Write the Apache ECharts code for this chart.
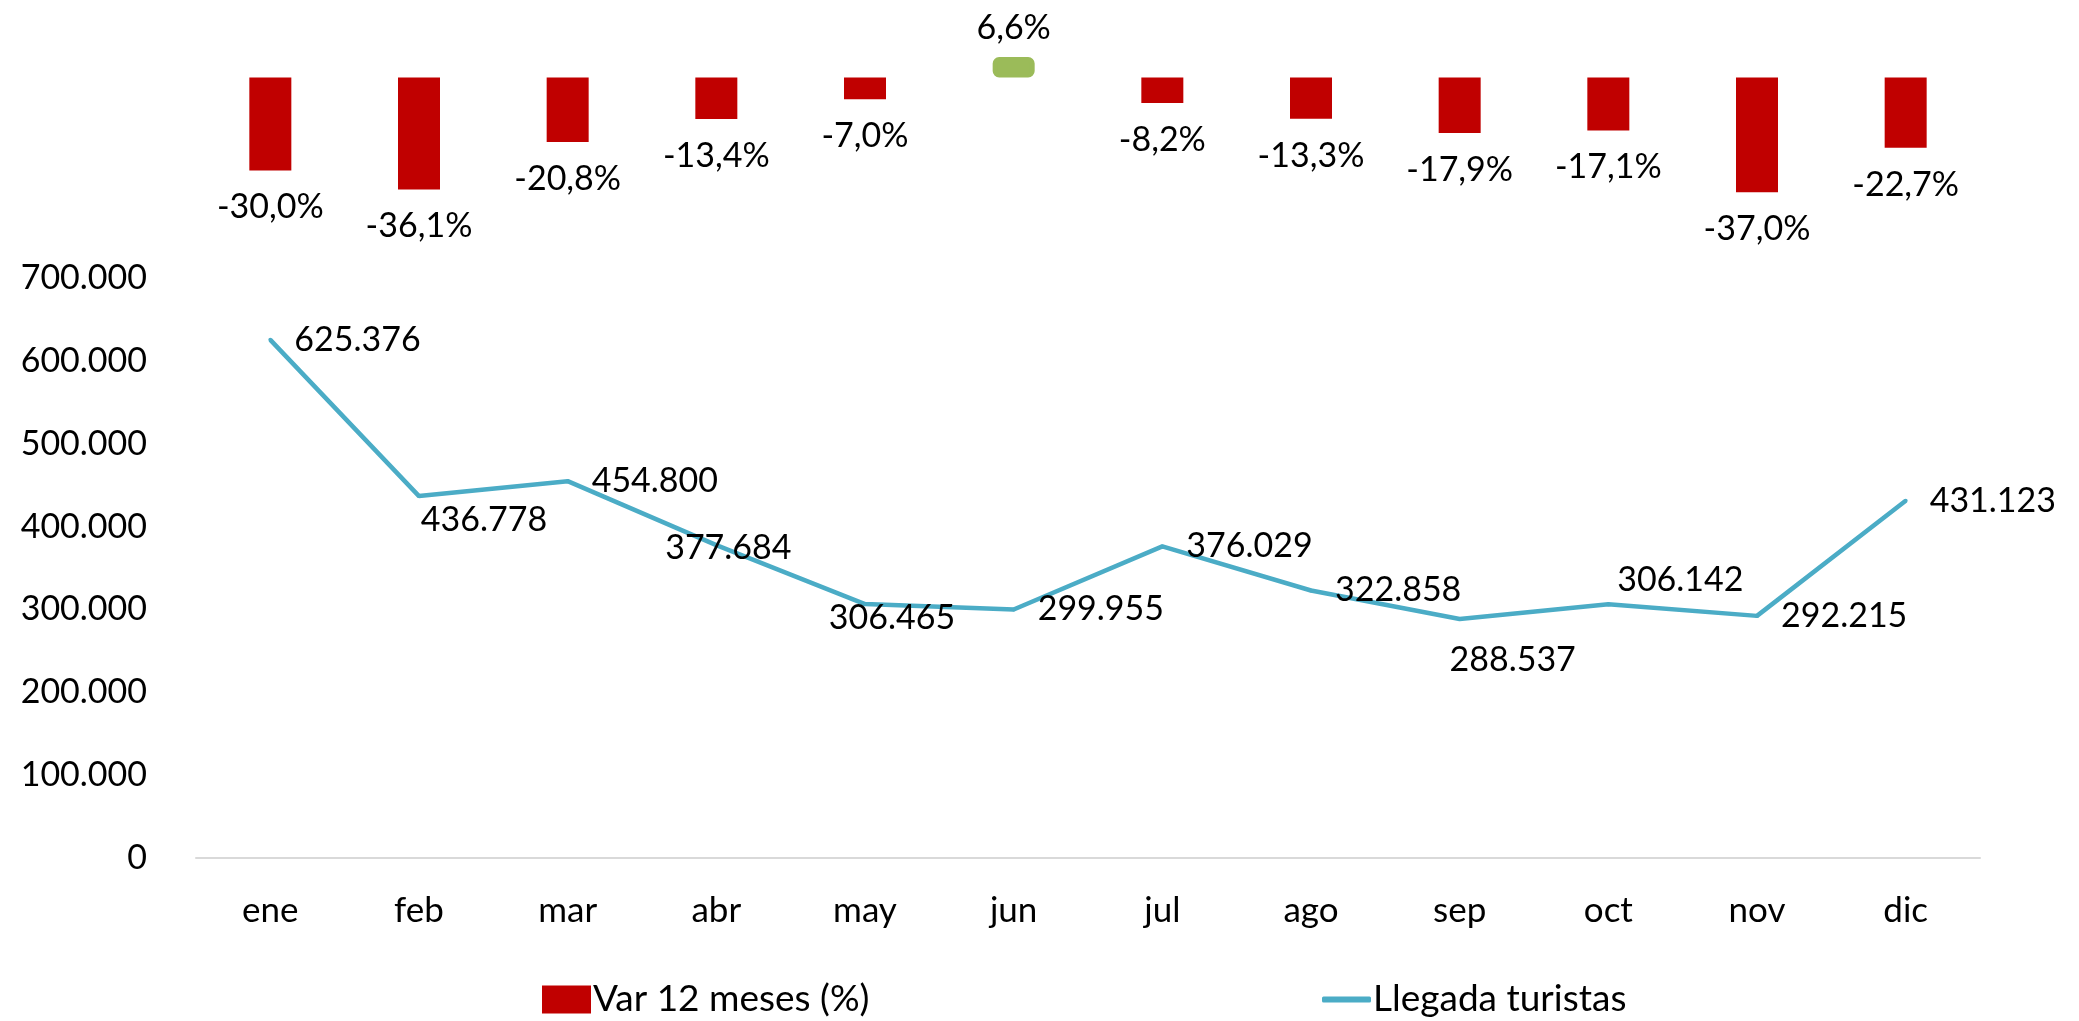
<!DOCTYPE html>
<html>
<head>
<meta charset="utf-8">
<title>Llegada turistas</title>
<script src="https://cdn.jsdelivr.net/npm/echarts@6/dist/echarts.min.js"></script>
<style>
    html, body { margin: 0; padding: 0; background: #fff; }
    .turistas { width: 2079px; height: 1021px; }
</style>
</head>
<body>
<div class="turistas"></div>
<script>
const months = ['ene', 'feb', 'mar', 'abr', 'may', 'jun', 'jul', 'ago', 'sep', 'oct', 'nov', 'dic'];
const variacion = [-30.0, -36.1, -20.8, -13.4, -7.0, 6.6, -8.2, -13.3, -17.9, -17.1, -37.0, -22.7];
const llegadas = [625376, 436778, 454800, 377684, 306465, 299955, 376029, 322858, 288537, 306142, 292215, 431123];
const yTicks = [0, 100000, 200000, 300000, 400000, 500000, 600000, 700000];

(function () {
    const myChart = echarts.init(document.querySelector('.turistas'));

    const font = 'Lato';
    const miles = v => String(v).replace(/\B(?=(\d{3})+(?!\d))/g, '.');

    // donde va cada etiqueta de la línea: 'right' o desplazamiento desde el punto
    const lineLabelPos = ['right', [65, 24], 'right', [12, 3], [27, 14], 'right',
        'right', 'right', [53, 41], [72, -24], 'right', 'right'];

    const barData = variacion.map(v => ({
        value: v,
        itemStyle: v >= 0
            ? { color: '#9BBB59', borderColor: '#9BBB59', borderWidth: 5, borderRadius: 4 }
            : { color: '#C00000' },
        label: { position: v >= 0 ? 'top' : 'bottom', distance: v >= 0 ? 12 : 20 }
    }));

    const lineData = llegadas.map((v, i) => {
        const p = lineLabelPos[i];
        return {
            value: v,
            label: p === 'right'
                ? { position: 'right', distance: 22 }
                : { position: 'inside', offset: p, align: 'center' }
        };
    });

    const option = {
        animation: false,
        textStyle: { fontFamily: font },
        grid: [
            { left: 196, right: 99, top: 46.5, height: 155 },
            { left: 196, right: 99, top: 278, bottom: 163 }
        ],
        legend: [
            {
                data: ['Var 12 meses (%)'],
                left: 537, top: 976,
                icon: 'rect', itemWidth: 49, itemHeight: 28, itemGap: 0,
                textStyle: { fontFamily: font, fontSize: 37, color: '#000', padding: [0, 0, 0, -3] }
            },
            {
                data: ['Llegada turistas'],
                left: 1317, top: 976,
                icon: 'roundRect', itemWidth: 49, itemHeight: 6,
                textStyle: { fontFamily: font, fontSize: 37, color: '#000', padding: [0, 0, 0, -3] }
            }
        ],
        xAxis: [
            { type: 'category', gridIndex: 0, data: months, show: false },
            {
                type: 'category',
                gridIndex: 1,
                data: months,
                axisLine: { lineStyle: { color: '#D9D9D9', width: 2 } },
                axisTick: { length: 12, lineStyle: { color: '#D9D9D9', width: 2 } },
                axisLabel: { margin: 35, fontFamily: font, fontSize: 35, color: '#000' }
            }
        ],
        yAxis: [
            { type: 'value', gridIndex: 0, min: -40, max: 10, show: false },
            {
                type: 'value',
                gridIndex: 1,
                min: yTicks[0],
                max: yTicks[yTicks.length - 1],
                interval: yTicks[1] - yTicks[0],
                splitLine: { show: false },
                axisLine: { show: false },
                axisTick: { show: false },
                axisLabel: {
                    margin: 49,
                    fontFamily: font,
                    fontSize: 34,
                    color: '#000',
                    formatter: miles
                }
            }
        ],
        series: [
            {
                name: 'Var 12 meses (%)',
                type: 'bar',
                xAxisIndex: 0,
                yAxisIndex: 0,
                barWidth: 42,
                itemStyle: { color: '#C00000' },
                label: {
                    show: true,
                    fontFamily: font,
                    fontSize: 34,
                    color: '#000',
                    formatter: p => p.value.toFixed(1).replace('.', ',') + '%'
                },
                data: barData
            },
            {
                name: 'Llegada turistas',
                type: 'line',
                xAxisIndex: 1,
                yAxisIndex: 1,
                symbol: 'circle',
                symbolSize: 4,
                itemStyle: { color: '#4BACC6' },
                lineStyle: { color: '#4BACC6', width: 4.5 },
                label: {
                    show: true,
                    fontFamily: font,
                    fontSize: 34,
                    color: '#000',
                    formatter: p => miles(p.value)
                },
                data: lineData
            }
        ]
    };

    myChart.setOption(option);
    window.addEventListener('resize', function () {
        myChart.resize();
    });
})();
</script>
</body>
</html>
